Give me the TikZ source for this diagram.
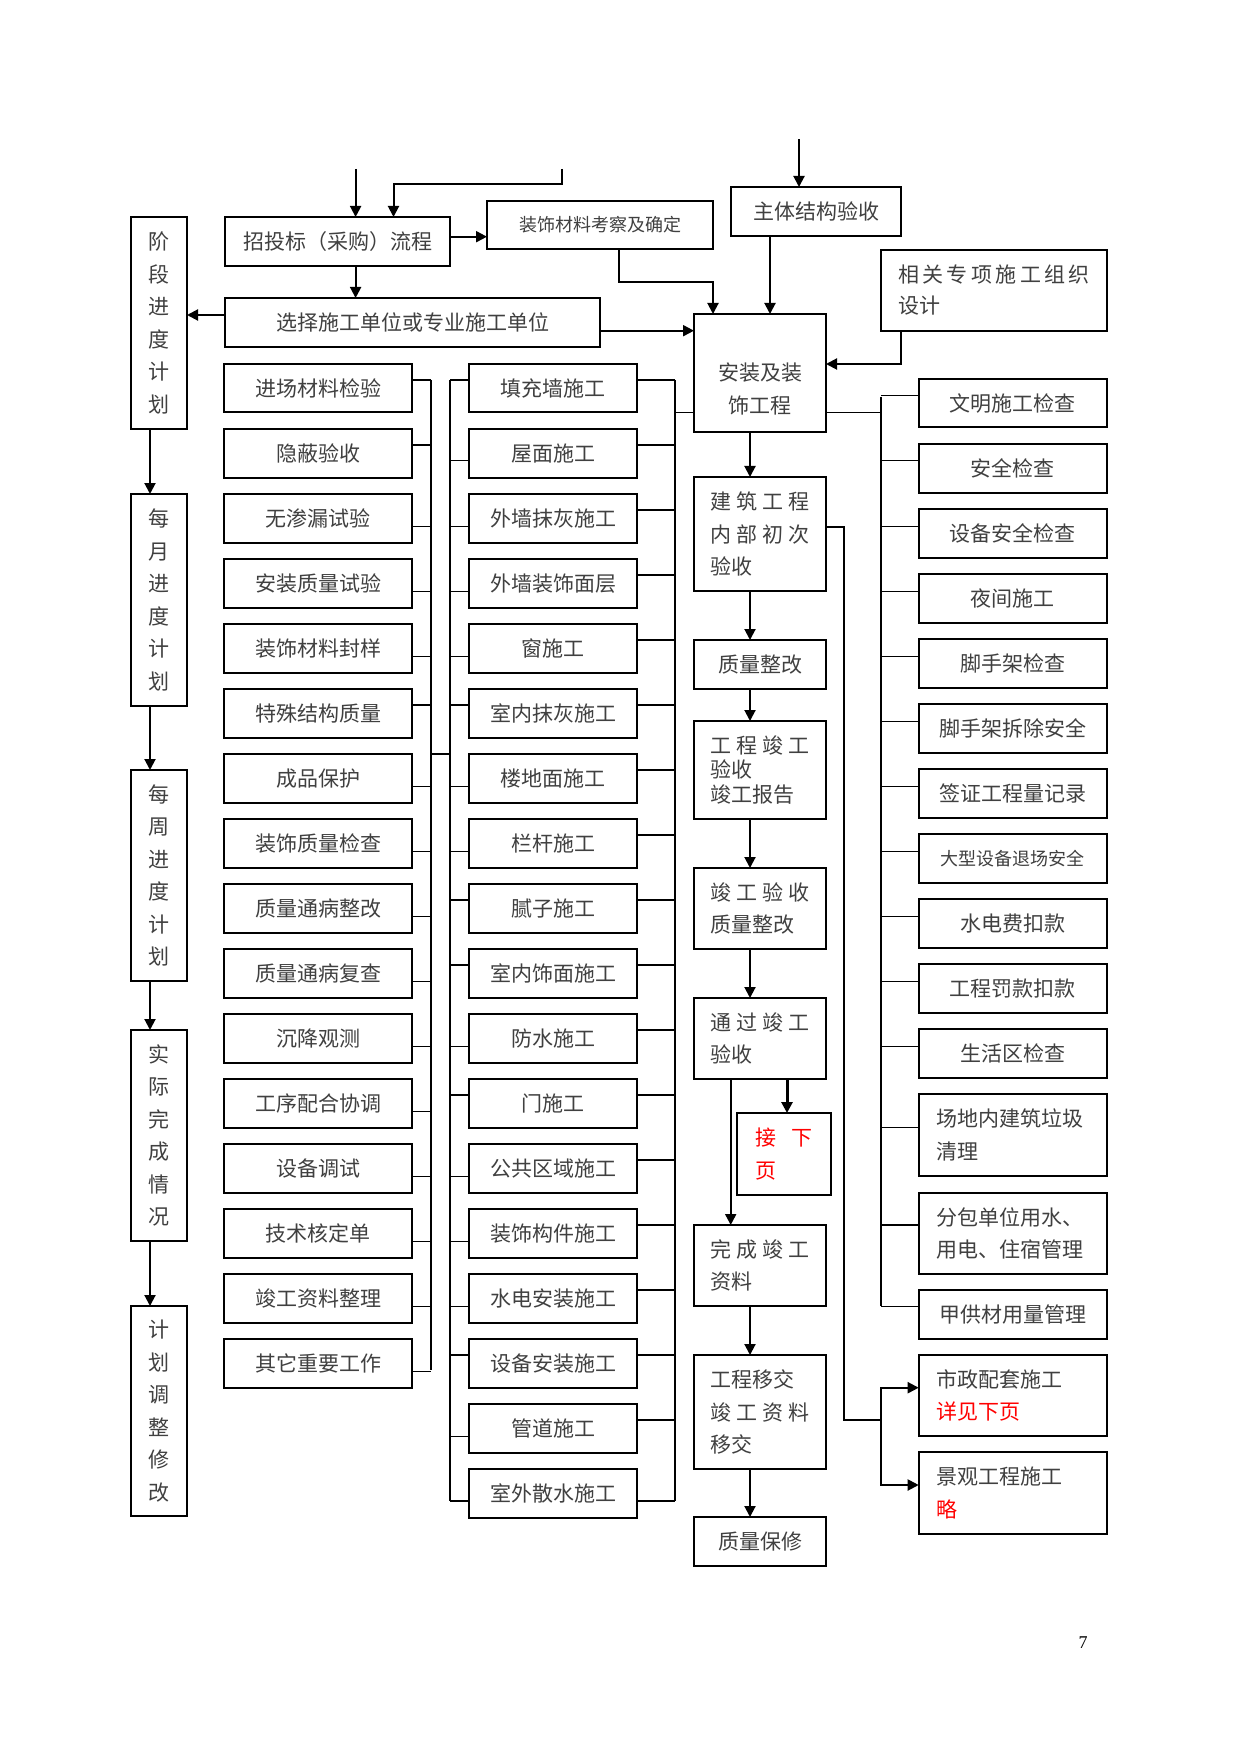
\documentclass[tikz,border=0pt]{standalone}
\usepackage{fontspec}
\setmainfont{Noto Sans CJK SC}
\newfontfamily\numfont{Liberation Serif}
\usetikzlibrary{arrows.meta}
\definecolor{txt}{gray}{0.25}
\newcommand\sprd[2]{\leavevmode\hbox to #1{#2}}
\begin{document}
\begin{tikzpicture}[x=0.5pt,y=-0.5pt]
\tikzset{
  box/.style={draw, line width=1pt, inner sep=0pt, outer sep=0pt, text=txt, align=center,
    font=\fontsize{10.5pt}{16.25pt}\selectfont},
  cbox/.style={box, minimum width=66pt, text width=50pt, inner xsep=8pt, align=left},
  arr/.style={line width=1pt, -{Triangle[width=5.5pt,length=5.5pt]}},
  bus/.style={line width=1pt},
  thk/.style={line width=1pt},
  thn/.style={line width=0.5pt},
}
\useasboundingbox (0,0) rectangle (1241,1754);
\fill[white] (0,0) rectangle (1241,1754);

% ---------- far-left column ----------
\node[box, minimum width=28pt, minimum height=106pt] (fa) at (159,323) {阶\\段\\进\\度\\计\\划};
\node[box, minimum width=28pt, minimum height=106pt] (fb) at (159,600) {每\\月\\进\\度\\计\\划};
\node[box, minimum width=28pt, minimum height=105.5pt] (fc) at (159,875.5) {每\\周\\进\\度\\计\\划};
\node[box, minimum width=28pt, minimum height=105.5pt] (fd) at (159,1135.5) {实\\际\\完\\成\\情\\况};
\node[box, minimum width=28pt, minimum height=105pt] (fe) at (159,1411) {计\\划\\调\\整\\修\\改};

% ---------- top ----------
\node[box, minimum width=112.5pt, minimum height=24.5pt] (zb) at (337.5,241.5) {招投标（采购）流程};
\node[box, minimum width=113pt, minimum height=24pt, font=\fontsize{9pt}{12pt}\selectfont] (zc) at (600,225) {装饰材料考察及确定};
\node[box, minimum width=85pt, minimum height=24.5pt] (zt) at (816,211.5) {主体结构验收};
\node[box, minimum width=187.5pt, minimum height=24.5pt] (xz) at (412.5,322.5) {选择施工单位或专业施工单位};
\node[box, minimum width=113pt, minimum height=40.5pt, align=left, text width=96pt, inner xsep=8.5pt,
  font=\fontsize{10.5pt}{15.5pt}\selectfont] (xg) at (994,290.5)
  {\sprd{96pt}{相\hfill 关\hfill 专\hfill 项\hfill 施\hfill 工\hfill 组\hfill 织}\\设计};

% ---------- center column ----------
\node[box, minimum width=66pt, minimum height=59pt] (az) at (760,373) {};
\node[text=txt, align=center, inner sep=0pt, font=\fontsize{10.5pt}{16.25pt}\selectfont] (azt) at (760,389) {安装及装\\饰工程};
\node[cbox, minimum height=57pt] (jz) at (760,534)
  {\sprd{50pt}{建\hfill 筑\hfill 工\hfill 程}\\\sprd{50pt}{内\hfill 部\hfill 初\hfill 次}\\验收};
\node[box, minimum width=66pt, minimum height=24.5pt] (zg) at (760,664.5) {质量整改};
\node[cbox, minimum height=49pt, font=\fontsize{10.5pt}{12.25pt}\selectfont] (gc) at (760,770)
  {\sprd{50pt}{工\hfill 程\hfill 竣\hfill 工}\\验收\\竣工报告};
\node[cbox, minimum height=40.5pt] (ys) at (760,908.5)
  {\sprd{50pt}{竣\hfill 工\hfill 验\hfill 收}\\质量整改};
\node[cbox, minimum height=40.5pt] (tg) at (760,1038.5)
  {\sprd{50pt}{通\hfill 过\hfill 竣\hfill 工}\\验收};
\node[box, minimum width=47pt, minimum height=41pt, text width=29pt, inner xsep=9pt, align=left, text=red] (jx) at (784,1154)
  {\sprd{29pt}{接\hfill 下}\\页};
\node[cbox, minimum height=40.5pt] (wc) at (760,1265.5)
  {\sprd{50pt}{完\hfill 成\hfill 竣\hfill 工}\\资料};
\node[cbox, minimum height=57pt] (yj) at (760,1412)
  {工程移交\\\sprd{50pt}{竣\hfill 工\hfill 资\hfill 料}\\移交};
\node[box, minimum width=66pt, minimum height=24.5pt] (bx) at (760,1541.5) {质量保修};

% ---------- left column ----------
\foreach \t [count=\i from 0] in {进场材料检验,隐蔽验收,无渗漏试验,安装质量试验,装饰材料封样,特殊结构质量,成品保护,装饰质量检查,质量通病整改,质量通病复查,沉降观测,工序配合协调,设备调试,技术核定单,竣工资料整理,其它重要工作}
  \node[box, minimum width=94pt, minimum height=24.25pt] (l\i) at (318.4,{388.25+65*\i}) {\t};

% ---------- middle column ----------
\foreach \t [count=\i from 0] in {填充墙施工,屋面施工,外墙抹灰施工,外墙装饰面层,窗施工,室内抹灰施工,楼地面施工,栏杆施工,腻子施工,室内饰面施工,防水施工,门施工,公共区域施工,装饰构件施工,水电安装施工,设备安装施工,管道施工,室外散水施工}
  \node[box, minimum width=84.15pt, minimum height=24.25pt] (m\i) at (553.15,{388.25+65*\i}) {\t};

% ---------- right column ----------
\foreach \t [count=\i from 0] in {文明施工检查,安全检查,设备安全检查,夜间施工,脚手架检查,脚手架拆除安全,签证工程量记录,\fontsize{9pt}{12pt}\selectfont 大型设备退场安全,水电费扣款,工程罚款扣款,生活区检查}
  \node[box, minimum width=94.15pt, minimum height=24.25pt] (r\i) at (1012.85,{403.25+65*\i}) {\t};
\node[box, minimum width=94.15pt, minimum height=41pt, align=left, text width=76.85pt, inner xsep=8.65pt] (r11) at (1012.85,1135) {场地内建筑垃圾\\清理};
\node[box, minimum width=94.15pt, minimum height=40.25pt, align=left, text width=76.85pt, inner xsep=8.65pt] (r12) at (1012.85,1233.25) {分包单位用水、\\用电、住宿管理};
\node[box, minimum width=94.15pt, minimum height=24.35pt] (r13) at (1012.85,1314.35) {甲供材用量管理};
\node[box, minimum width=94.15pt, minimum height=40.5pt, align=left, text width=76.85pt, inner xsep=8.65pt] (sz) at (1012.85,1395.5) {市政配套施工\\\textcolor{red}{详见下页}};
\node[box, minimum width=94.15pt, minimum height=41pt, align=left, text width=76.85pt, inner xsep=8.65pt] (jg) at (1012.85,1493) {景观工程施工\\\textcolor{red}{略}};

% ---------- buses ----------
\coordinate (lbT) at (431,380);   \coordinate (lbB) at (431,1370);
\coordinate (mlT) at (450,380);   \coordinate (mlB) at (450,1501);
\coordinate (mrT) at (675,380);   \coordinate (mrB) at (675,1501);
\coordinate (rbT) at (881,396.7); \coordinate (rbB) at (881,1306);
\draw[bus] (lbT) -- (lbB);
\draw[bus] (mlT) -- (mlB);
\draw[bus] (mrT) -- (mrB);
\draw[bus] (rbT) -- (rbB);
\coordinate (lk) at (431,754);
\draw[bus] (lk) -- (lk -| mlT);

\foreach \i/\o/\w in {0/8/1,1/8/1,2/16/0.5,3/16/0.5,4/16/0.5,5/8/1,6/16/0.5,7/16/0.5,8/16/0.5,9/16/0.5,10/16/0.5,11/16/0.5,12/16/0.5,13/16/0.5,14/16/0.5,15/16/0.5}{
  \path ([yshift=-\o pt]l\i.north east) coordinate (p);
  \draw[line width=\w pt] (p) -- (p -| lbT);
}
\foreach \i/\o/\w in {0/8/1,1/16/0.5,2/16/0.5,3/16/0.5,4/16/0.5,5/8/1,6/16/0.5,7/16/0.5,8/8/1,9/8/1,10/16/0.5,11/8/1,12/16/0.5,13/16/0.5,14/16/0.5,15/8/1,16/16/0.5,17/16/1}{
  \path ([yshift=-\o pt]m\i.north west) coordinate (p);
  \draw[line width=\w pt] (p) -- (p -| mlT);
}
\foreach \i/\o in {0/8,1/8,2/8,3/8,4/8,5/8,6/8,7/8,8/8,9/8,10/8,11/8,12/8,13/8,14/8,15/8,16/8,17/16}{
  \path ([yshift=-\o pt]m\i.north east) coordinate (p);
  \draw[thk] (p) -- (p -| mrT);
}
\foreach \i/\o/\w in {0/8.5/0.5,1/8.5/0.5,2/8.5/0.5,3/8.5/0.5,4/8.5/0.5,5/8.5/0.5,6/8.5/0.5,7/8.5/0.5,8/8.5/0.5,9/8.5/0.5,10/8.5/0.5,11/16.5/0.5,12/16/1,13/8/0.5}{
  \path ([yshift=-\o pt]r\i.north west) coordinate (p);
  \draw[line width=\w pt] (p) -- (p -| rbT);
}

% ---------- top connectors ----------
\coordinate (tin1) at (355.6,169);
\draw[arr] (tin1) -- (tin1 |- zb.north);
\coordinate (tin2) at (562.3,169);
\coordinate (tk) at (393.5,184.3);
\draw[arr] (tin2) -- (tin2 |- tk) -- (tk) -- (tk |- zb.north);
\coordinate (c0) at (0,236.7);
\draw[arr] (c0 -| zb.east) -- (c0 -| zc.west);
\draw[arr] (tin1 |- zb.south) -- (tin1 |- xz.north);
\coordinate (c1) at (0,315);
\draw[arr] (c1 -| xz.west) -- (c1 -| fa.east);
\coordinate (c2) at (0,330.7);
\draw[arr] (c2 -| xz.east) -- (c2 -| az.west);
\coordinate (c3) at (618.6,282.3);
\coordinate (c4) at (713,282.3);
\draw[arr] (c3 |- zc.south) -- (c3) -- (c4) -- (c4 |- az.north);
\coordinate (c5) at (799,139.3);
\draw[arr] (c5) -- (c5 |- zt.north);
\coordinate (c6) at (770,0);
\draw[arr] (c6 |- zt.south) -- (c6 |- az.north);
\coordinate (c7) at (901,364);
\draw[arr] (c7 |- xg.south) -- (c7) -- (c7 -| az.east);
\coordinate (c8) at (0,412.5);
\draw[thn] (c8 -| az.east) -- (c8 -| rbT);
\draw[thn] (c8 -| mrT) -- (c8 -| az.west);

% ---------- center connectors ----------
\coordinate (cx) at (750,0);
\foreach \a/\b in {az/jz,jz/zg,zg/gc,gc/ys,ys/tg,wc/yj,yj/bx}
  \draw[arr] (cx |- \a.south) -- (cx |- \b.north);
\coordinate (c9) at (787,0);
\draw[arr, line width=1.5pt] (c9 |- tg.south) -- (c9 |- jx.north);
\coordinate (c10) at (730.7,0);
\draw[arr] (c10 |- tg.south) -- (c10 |- wc.north);
\coordinate (c11) at (843.7,526.7);
\coordinate (c12) at (843.7,1420);
\draw[thk] (c11 -| jz.east) -- (c11) -- (c12) -- (c12 -| rbT);
\coordinate (c13) at (881,1387.7);
\coordinate (c14) at (881,1485);
\draw[arr] (c12 -| rbT) -- (c13) -- (c13 -| sz.west);
\draw[arr] (c12 -| rbT) -- (c14) -- (c14 -| jg.west);

% ---------- far-left arrows ----------
\coordinate (fx) at (150,0);
\foreach \a/\b in {fa/fb,fb/fc,fc/fd,fd/fe}
  \draw[arr] (fx |- \a.south) -- (fx |- \b.north);

% page number
\node[font=\numfont\fontsize{9pt}{10pt}\selectfont, inner sep=0pt] (pg) at (1083,1643) {7};
\end{tikzpicture}
\end{document}
